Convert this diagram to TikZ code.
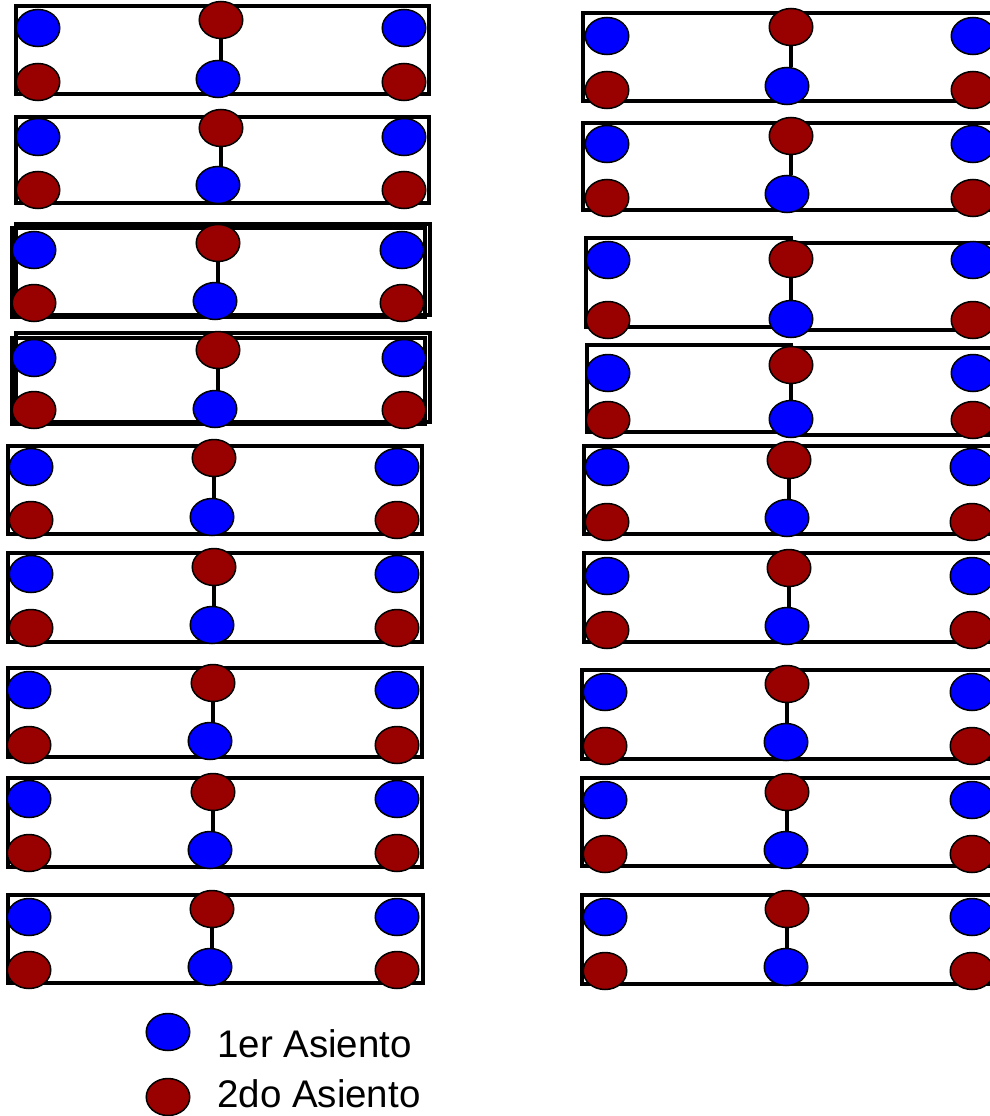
\documentclass[tikz,border=0pt]{standalone}
\usepackage{fontspec}
\setmainfont{Liberation Sans}
\usetikzlibrary{shapes.geometric}
\definecolor{seatblue}{RGB}{0,0,255}
\definecolor{seatred}{RGB}{153,0,0}
\begin{document}
\begin{tikzpicture}[x=1pt,y=-1pt,
  carbox/.style={draw=black, line width=3.2pt},
  seat/.style={ellipse, draw=black, line width=1.5pt, minimum width=43.5pt, minimum height=37pt, inner sep=0pt},
  firstseat/.style={seat, fill=seatblue},
  secondseat/.style={seat, fill=seatred},
  link/.style={draw=black, line width=3.4pt},
  lab/.style={anchor=base west, inner sep=0pt, font=\fontsize{38.5}{42}\selectfont}]
\useasboundingbox (0,0) rectangle (989,1116);
% left column outlines
\draw[carbox] (16,6) rectangle (429,94);
\draw[carbox] (16,117) rectangle (429,203);
\draw[carbox] (12,228) rectangle (425,317);
\draw[carbox] (16,224) rectangle (430,315);
\draw[carbox] (12,338) rectangle (425,424);
\draw[carbox] (16,333) rectangle (430,422);
\draw[carbox] (8,446) rectangle (422,534);
\draw[carbox] (8,553) rectangle (422,642);
\draw[carbox] (8,668) rectangle (422,757);
\draw[carbox] (8,778) rectangle (422,867);
\draw[carbox] (8,895) rectangle (423,983);
% right column outlines
\draw[carbox] (583,13) rectangle (1000,101);
\draw[carbox] (583,123) rectangle (1000,210);
\draw[carbox] (793,238) -- (586,238) -- (586,327) -- (793,327);
\draw[carbox] (791,243) -- (1000,243);
\draw[carbox] (791,330) -- (1000,330);
\draw[carbox] (793,345) -- (587,345) -- (587,432) -- (793,432);
\draw[carbox] (791,348) -- (1000,348);
\draw[carbox] (791,435) -- (1000,435);
\draw[carbox] (584,446) rectangle (1000,534);
\draw[carbox] (584,553) rectangle (1000,642);
\draw[carbox] (582,670) rectangle (1000,759);
\draw[carbox] (582,778) rectangle (1000,866);
\draw[carbox] (582,895) rectangle (1000,984);
% seats
\foreach \n/\lx/\ty/\by/\mtx/\mty/\mbx/\mby/\rx in {
  L1/38/28/82/221/20/218/79/404,
  L2/38/137/190/221/128/218/185/404,
  L3/34/250/303/218/243/215/301/402,
  L4/34/358/410/218/350/215/409/404,
  L5/31/467/520/214/458/212/517/397,
  L6/31/574/628/214/567/212/625/397,
  L7/29/690/745/213/683/210/741/397,
  L8/29/799/853/213/792/210/850/397,
  L9/29/917/970/212/909/210/967/397,
  R1/607/36/90/791/27/787/86/973,
  R2/607/144/198/791/136/787/194/973,
  R3/608/260/320/791/259/791/319/973,
  R4/608/373/420/791/365/791/419/973,
  R5/607/467/522/789/460/787/518/972,
  R6/607/576/630/789/568/787/626/972,
  R7/605/692/746/787/684/786/742/972,
  R8/605/800/854/787/792/786/850/972,
  R9/605/917/971/787/909/786/967/972}{
  \node[firstseat] (\n-lt) at (\lx,\ty) {};
  \node[secondseat] (\n-lb) at (\lx,\by) {};
  \node[secondseat] (\n-mt) at (\mtx,\mty) {};
  \node[firstseat] (\n-mb) at (\mbx,\mby) {};
  \node[firstseat] (\n-rt) at (\rx,\ty) {};
  \node[secondseat] (\n-rb) at (\rx,\by) {};
  \draw[link] (\n-mt.south) -- (\n-mt.south |- \n-mb.north);
}
% legend
\node[firstseat] (k1) at (168,1032) {};
\node[secondseat] (k2) at (168,1097) {};
\node[lab] (t1) at (217,1057) {1er Asiento};
\node[lab] (t2) at (217,1107) {2do Asiento};
\end{tikzpicture}
\end{document}
